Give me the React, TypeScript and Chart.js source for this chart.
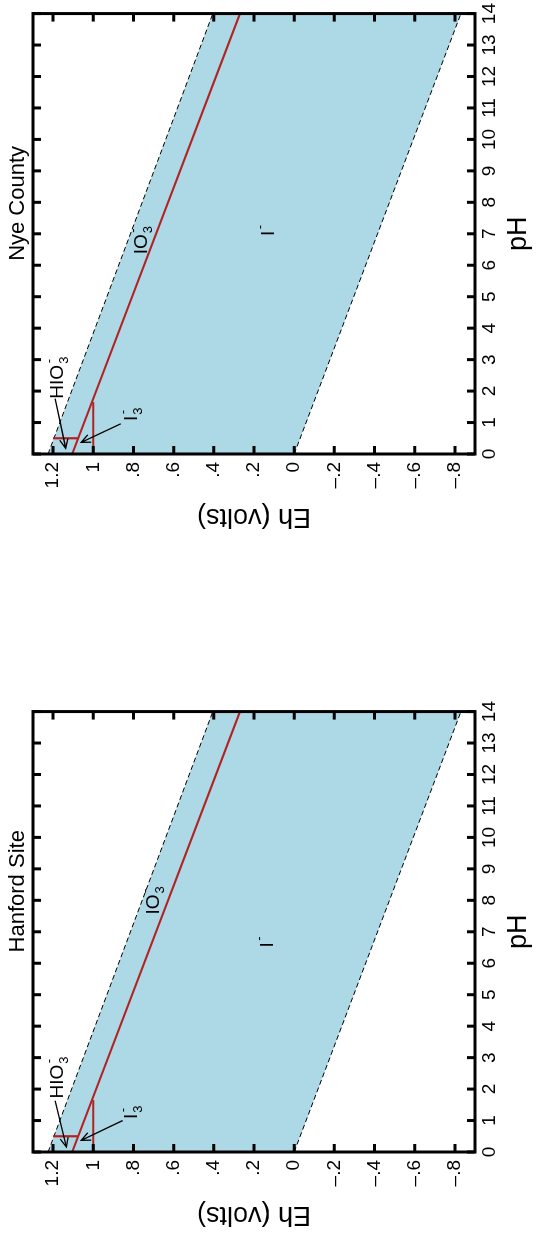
import React, { useEffect, useRef } from 'react';
import { Chart, registerables } from 'chart.js';

Chart.register(...registerables);

// ---------- axes ----------
const PH_TICKS = [0, 1, 2, 3, 4, 5, 6, 7, 8, 9, 10, 11, 12, 13, 14];
const PH_TICK_LABELS = ['0', '1', '2', '3', '4', '5', '6', '7', '8', '9', '10', '11', '12', '13', '14'];
const EH_TICKS = [-0.8, -0.6, -0.4, -0.2, 0, 0.2, 0.4, 0.6, 0.8, 1.0, 1.2];
const EH_TICK_LABELS = ['\u2013.8', '\u2013.6', '\u2013.4', '\u2013.2', '0', '.2', '.4', '.6', '.8', '1', '1.2'];
const PH_MIN = 0;
const PH_MAX = 14;
const EH_MIN = -0.9;
const EH_MAX = 1.3;

// ---------- boundary lines (pH, Eh) ----------
const UPPER_WATER_PH = [0, 14];
const UPPER_WATER_EH = [1.225, 0.405];
const LOWER_WATER_PH = [0, 14];
const LOWER_WATER_EH = [0.0, -0.83];
const IO3_I_PH = [0, 14];
const IO3_I_EH = [1.105, 0.27];
const I3_I_PH = [0, 1.65];
const I3_I_EH = [1.0, 1.0];
const HIO3_IO3_PH = [0.5, 0.5];
const HIO3_IO3_EH = [1.2, 1.077];

// ---------- species labels ----------
type Label = { main: string; sub: string; sup: string; ph: number; eh: number };
type Arrow = { fromPh: number; fromEh: number; toPh: number; toEh: number };

const NYE_LABELS: Label[] = [
  { main: 'I', sub: '', sup: '-', ph: 6.93, eh: 0.1 },
  { main: 'IO', sub: '3', sup: '-', ph: 6.35, eh: 0.735 },
  { main: 'I', sub: '3', sup: '-', ph: 1.05, eh: 0.78 },
  { main: 'HIO', sub: '3', sup: '-', ph: 1.76, eh: 1.15 },
];
const HANFORD_LABELS: Label[] = [
  { main: 'I', sub: '', sup: '-', ph: 6.5, eh: 0.107 },
  { main: 'IO', sub: '3', sup: '-', ph: 7.55, eh: 0.673 },
  { main: 'I', sub: '3', sup: '-', ph: 1.05, eh: 0.78 },
  { main: 'HIO', sub: '3', sup: '-', ph: 1.7, eh: 1.15 },
];
const NYE_ARROWS: Arrow[] = [
  { fromPh: 1.76, fromEh: 1.19, toPh: 0.18, toEh: 1.137 },
  { fromPh: 0.96, fromEh: 0.863, toPh: 0.37, toEh: 1.06 },
];
const HANFORD_ARROWS: Arrow[] = [
  { fromPh: 1.63, fromEh: 1.19, toPh: 0.16, toEh: 1.134 },
  { fromPh: 1.0, fromEh: 0.854, toPh: 0.37, toEh: 1.06 },
];

// ---------- styling ----------
const FONT = "'Liberation Sans', Arial, Helvetica, sans-serif";
const FILL = '#ADD8E6';
const RED = '#B22222';
const W = 530;
const H = 536;
const TICK = 8;

const pts = (xs: number[], ys: number[]) => xs.map((v, i) => ({ x: v, y: ys[i] }));

function makePlugin(title: string, titleFrac: number, labels: Label[], arrows: Arrow[]) {
  return {
    id: 'frame',
    afterDatasetsDraw(chart: any) {
      const { ctx, chartArea: a, scales } = chart;
      const x = scales.x;
      const y = scales.y;
      ctx.save();
      // ticks
      ctx.strokeStyle = '#000';
      ctx.lineWidth = 3;
      ctx.beginPath();
      PH_TICKS.forEach((v) => {
        const px = x.getPixelForValue(v);
        ctx.moveTo(px, a.bottom);
        ctx.lineTo(px, a.bottom - TICK);
        ctx.moveTo(px, a.top);
        ctx.lineTo(px, a.top + TICK);
      });
      EH_TICKS.forEach((v) => {
        const py = y.getPixelForValue(v);
        ctx.moveTo(a.left, py);
        ctx.lineTo(a.left + TICK, py);
        ctx.moveTo(a.right, py);
        ctx.lineTo(a.right - TICK, py);
      });
      ctx.stroke();
      ctx.strokeRect(a.left, a.top, a.right - a.left, a.bottom - a.top);

      // arrows
      ctx.lineWidth = 1.3;
      arrows.forEach((ar) => {
        const x1 = x.getPixelForValue(ar.fromPh);
        const y1 = y.getPixelForValue(ar.fromEh);
        const x2 = x.getPixelForValue(ar.toPh);
        const y2 = y.getPixelForValue(ar.toEh);
        const ang = Math.atan2(y2 - y1, x2 - x1);
        const L = 10;
        const s = 0.42;
        ctx.beginPath();
        ctx.moveTo(x1, y1);
        ctx.lineTo(x2, y2);
        ctx.moveTo(x2 - L * Math.cos(ang - s), y2 - L * Math.sin(ang - s));
        ctx.lineTo(x2, y2);
        ctx.lineTo(x2 - L * Math.cos(ang + s), y2 - L * Math.sin(ang + s));
        ctx.stroke();
      });

      // species labels
      ctx.fillStyle = '#000';
      ctx.textAlign = 'left';
      ctx.textBaseline = 'alphabetic';
      labels.forEach((l) => {
        const px = x.getPixelForValue(l.ph);
        const py = y.getPixelForValue(l.eh);
        ctx.font = `19px ${FONT}`;
        ctx.fillText(l.main, px, py);
        const w = ctx.measureText(l.main).width;
        ctx.font = `13px ${FONT}`;
        if (l.sub) ctx.fillText(l.sub, px + w + 1, py + 5);
        if (l.sup) ctx.fillText(l.sup, px + w + 1.5, py - 10);
      });

      // title
      ctx.font = `22px ${FONT}`;
      ctx.textAlign = 'center';
      ctx.textBaseline = 'middle';
      ctx.fillText(title, a.left + titleFrac * (a.right - a.left), a.top - 15);
      ctx.restore();
    },
  };
}

function makeConfig(title: string, titleFrac: number, labels: Label[], arrows: Arrow[]): any {
  const dashed = { borderColor: '#000', borderWidth: 1, borderDash: [5, 3], pointRadius: 0 };
  const red = { borderColor: RED, borderWidth: 2.2, pointRadius: 0, fill: false, order: 1 };
  return {
    type: 'line',
    data: {
      datasets: [
        { ...dashed, data: pts(UPPER_WATER_PH, UPPER_WATER_EH), fill: '+1', backgroundColor: FILL, order: 5 },
        { ...dashed, data: pts(LOWER_WATER_PH, LOWER_WATER_EH), fill: false, order: 2 },
        { ...red, data: pts(IO3_I_PH, IO3_I_EH) },
        { ...red, data: pts(I3_I_PH, I3_I_EH) },
        { ...red, data: pts(HIO3_IO3_PH, HIO3_IO3_EH) },
      ],
    },
    options: {
      animation: false,
      responsive: false,
      devicePixelRatio: 1,
      events: [],
      layout: { padding: { top: 33, right: 13, left: 0, bottom: 0 } },
      elements: { line: { tension: 0 } },
      plugins: { legend: { display: false }, tooltip: { enabled: false }, title: { display: false } },
      scales: {
        x: {
          type: 'linear',
          min: PH_MIN,
          max: PH_MAX,
          afterBuildTicks: (s: any) => {
            s.ticks = PH_TICKS.map((v) => ({ value: v }));
          },
          afterFit: (s: any) => {
            s.height = 61;
          },
          ticks: {
            autoSkip: false,
            maxRotation: 0,
            color: '#000',
            padding: 3,
            font: { family: FONT, size: 19 },
            callback: (_v: any, i: number) => PH_TICK_LABELS[i],
          },
          grid: { display: false, drawTicks: false },
          border: { display: false },
          title: {
            display: true,
            text: 'pH',
            color: '#000',
            font: { family: FONT, size: 27, lineHeight: 1 },
            padding: { top: 0, bottom: 4 },
          },
        },
        y: {
          type: 'linear',
          min: EH_MIN,
          max: EH_MAX,
          afterBuildTicks: (s: any) => {
            s.ticks = EH_TICKS.map((v) => ({ value: v }));
          },
          afterFit: (s: any) => {
            s.width = 76;
          },
          ticks: {
            autoSkip: false,
            color: '#000',
            padding: 8,
            font: { family: FONT, size: 19 },
            callback: (_v: any, i: number) => EH_TICK_LABELS[i],
          },
          grid: { display: false, drawTicks: false },
          border: { display: false },
          title: {
            display: true,
            text: 'Eh (volts)',
            color: '#000',
            font: { family: FONT, size: 27, lineHeight: 1 },
            padding: { top: 0, bottom: 0 },
          },
        },
      },
    },
    plugins: [makePlugin(title, titleFrac, labels, arrows)],
  };
}

function Panel(props: { top: number; title: string; titleFrac: number; labels: Label[]; arrows: Arrow[] }) {
  const ref = useRef<HTMLCanvasElement>(null);
  useEffect(() => {
    if (!ref.current) return;
    const chart = new Chart(ref.current, makeConfig(props.title, props.titleFrac, props.labels, props.arrows));
    return () => chart.destroy();
  }, []);
  return (
    <div
      style={{
        position: 'absolute',
        left: 0,
        top: props.top,
        width: W,
        height: H,
        transformOrigin: '0 0',
        transform: `translateY(${W}px) rotate(-90deg)`,
      }}
    >
      <canvas ref={ref} width={W} height={H} style={{ display: 'block', width: W, height: H }} />
    </div>
  );
}

export default function App() {
  return (
    <div
      style={{
        position: 'absolute',
        left: 0,
        top: 0,
        width: 536,
        height: 1237,
        background: '#fff',
        overflow: 'hidden',
      }}
    >
      <Panel top={0} title="Nye County" titleFrac={0.569} labels={NYE_LABELS} arrows={NYE_ARROWS} />
      <Panel top={698} title="Hanford Site" titleFrac={0.592} labels={HANFORD_LABELS} arrows={HANFORD_ARROWS} />
    </div>
  );
}
